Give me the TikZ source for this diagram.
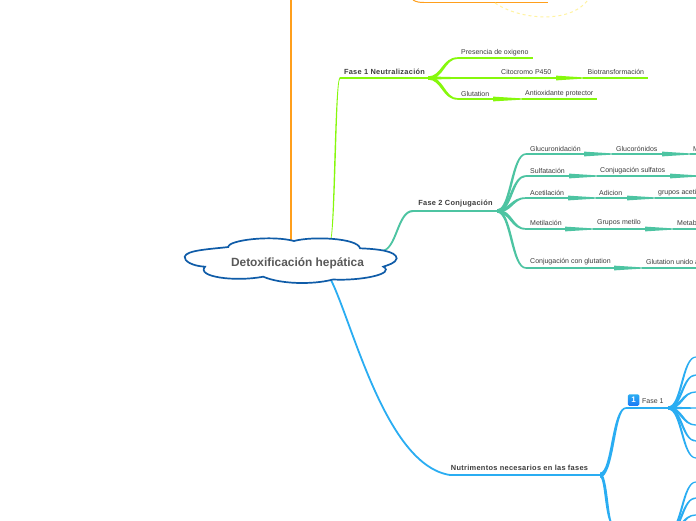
\documentclass[tikz,border=0pt]{standalone}
\usepackage{fontspec}
\setmainfont{Liberation Sans}
\newfontfamily\topicfont{Liberation Sans}[LetterSpace=4]
\usetikzlibrary{calc}
\definecolor{verde}{HTML}{86F80C}
\definecolor{teal2}{HTML}{4DC4A2}
\definecolor{azul}{HTML}{2AADF2}
\definecolor{naranja}{HTML}{FF9F1C}
\definecolor{nube}{HTML}{0F5CA8}
\definecolor{amarillo}{HTML}{FFF3A0}
\definecolor{texto}{HTML}{3C3C3C}
% rama curva que se adelgaza
\newcommand{\branch}[5]{\fill[#1] let \p1=(#2), \p2=(#3), \n1={0.5*(\x1+\x2)},
  \n2={0.5*(#4+#5)*sign(\y2-\y1)} in
  (\x1,\y1+#4) .. controls (\n1-\n2,\y1+#4) and (\n1-\n2,\y2+#5) .. (\x2,\y2+#5) -- (\x2,\y2-#5)
  .. controls (\n1+\n2,\y2-#5) and (\n1+\n2,\y1-#4) .. (\x1,\y1-#4) -- cycle;}
% flecha en cuña
\newcommand{\wedgearrow}[3]{\fill[#1] let \p1=(#2), \p2=(#3), \n1={0.5*(\x1+\x2)} in
  (\x1,\y1+2.4pt) .. controls (\n1,\y1+1.2pt) .. (\x2,\y2+.6pt) -- (\x2,\y2-.6pt)
  .. controls (\n1,\y1-1.2pt) .. (\x1,\y1-2.4pt) -- cycle;}
\begin{document}
\begin{tikzpicture}[x=1pt, y=-1pt,
  leaf/.style={anchor=west, inner sep=0pt, font=\fontsize{7}{8}\selectfont, text=texto},
  topic/.style={inner sep=0pt, font=\fontsize{7.4}{8}\topicfont\bfseries\selectfont, text=texto},
  under/.style={line width=1.8pt},
  mainline/.style={line width=2.1pt}
]
  \useasboundingbox (0,0) rectangle (696,520);
  \clip (0,0) rectangle (696,520);
  \fill[white] (0,0) rectangle (696,520);

  % Rama naranja
  \coordinate (o1) at (291,241);
  \coordinate (o2) at (291,0);
  \coordinate (o3) at (413,0);
  \coordinate (o4) at (424,2.5);
  \coordinate (o5) at (548,2.5);
  \draw[naranja, line width=1.9pt] (o1) -- (o2);
  \draw[naranja, line width=1pt] (o3) .. controls (416,2) and (420,2.5) .. (o4);
  \draw[naranja, line width=1.8pt] (o4) -- (o5);
  \coordinate (y1) at (495,3);
  \coordinate (y2) at (588,0);
  \draw[amarillo, line width=1pt, dashed] (y1) .. controls (520,20) and (570,24) .. (y2);

  % Fase 1 Neutralizacion
  \coordinate (g0) at (330,241);
  \coordinate (g1) at (340,78);
  \coordinate (g2) at (428,78);
  \coordinate (g3) at (458,58);
  \coordinate (g4) at (533,58);
  \coordinate (g5) at (458,78);
  \coordinate (g6) at (556,78);
  \coordinate (g7) at (583,78);
  \coordinate (g8) at (648,78);
  \coordinate (g9) at (458,99);
  \coordinate (g10) at (493,99);
  \coordinate (g11) at (522,99);
  \coordinate (g12) at (597,99);
  \branch{verde}{g0}{g1}{.8pt}{1pt}
  \draw[verde, mainline] (g1) -- (g2);
  \branch{verde}{g2}{g3}{1.6pt}{.8pt}
  \branch{verde}{g2}{g5}{1.6pt}{.8pt}
  \branch{verde}{g2}{g9}{1.6pt}{.8pt}
  \draw[verde, under] (g3) -- (g4);
  \draw[verde, under] (g5) -- (g6);
  \wedgearrow{verde}{g6}{g7}
  \draw[verde, under] (g7) -- (g8);
  \draw[verde, under] (g9) -- (g10);
  \wedgearrow{verde}{g10}{g11}
  \draw[verde, under] (g11) -- (g12);
  \node[topic] (fase1) at (384.5,71.8) {Fase 1 Neutralización};
  \node[leaf] (oxigeno) at (461,52.8) {Presencia de oxigeno};
  \node[leaf] (citocromo) at (501,71.8) {Citocromo P450};
  \node[leaf] (biotrans) at (587.5,71.8) {Biotransformación};
  \node[leaf] (glutation) at (461,93.8) {Glutation};
  \node[leaf] (antiox) at (525,93.8) {Antioxidante protector};

  % Fase 2 Conjugacion
  \coordinate (t0) at (381,251);
  \coordinate (t1) at (413,211);
  \coordinate (t2) at (497,211);
  \branch{teal2}{t0}{t1}{.8pt}{1pt}
  \draw[teal2, mainline] (t1) -- (t2);
  \coordinate (a0) at (526,154);
  \coordinate (a1) at (584,154);
  \coordinate (a2) at (612,154);
  \coordinate (a3) at (662,154);
  \coordinate (a4) at (690,154);
  \coordinate (a5) at (696,154);
  \coordinate (b0) at (526,176);
  \coordinate (b1) at (569,176);
  \coordinate (b2) at (597,176);
  \coordinate (b3) at (670,176);
  \coordinate (b4) at (698,176);
  \coordinate (c0) at (526,198);
  \coordinate (c1) at (568,198);
  \coordinate (c2) at (596,198);
  \coordinate (c3) at (627,198);
  \coordinate (c4) at (655,198);
  \coordinate (c5) at (696,198);
  \coordinate (d0) at (526,229);
  \coordinate (d1) at (565,229);
  \coordinate (d2) at (593,229);
  \coordinate (d3) at (645,229);
  \coordinate (d4) at (673,229);
  \coordinate (d5) at (696,229);
  \coordinate (e0) at (526,268);
  \coordinate (e1) at (614,268);
  \coordinate (e2) at (642,268);
  \coordinate (e3) at (696,268);
  \branch{teal2}{t2}{a0}{1.6pt}{.8pt}
  \branch{teal2}{t2}{b0}{1.6pt}{.8pt}
  \branch{teal2}{t2}{c0}{1.6pt}{.8pt}
  \branch{teal2}{t2}{d0}{1.6pt}{.8pt}
  \branch{teal2}{t2}{e0}{1.6pt}{.8pt}
  \draw[teal2, under] (a0) -- (a1);
  \wedgearrow{teal2}{a1}{a2}
  \draw[teal2, under] (a2) -- (a3);
  \wedgearrow{teal2}{a3}{a4}
  \draw[teal2, under] (a4) -- (a5);
  \draw[teal2, under] (b0) -- (b1);
  \wedgearrow{teal2}{b1}{b2}
  \draw[teal2, under] (b2) -- (b3);
  \wedgearrow{teal2}{b3}{b4}
  \draw[teal2, under] (c0) -- (c1);
  \wedgearrow{teal2}{c1}{c2}
  \draw[teal2, under] (c2) -- (c3);
  \wedgearrow{teal2}{c3}{c4}
  \draw[teal2, under] (c4) -- (c5);
  \draw[teal2, under] (d0) -- (d1);
  \wedgearrow{teal2}{d1}{d2}
  \draw[teal2, under] (d2) -- (d3);
  \wedgearrow{teal2}{d3}{d4}
  \draw[teal2, under] (d4) -- (d5);
  \draw[teal2, under] (e0) -- (e1);
  \wedgearrow{teal2}{e1}{e2}
  \draw[teal2, under] (e2) -- (e3);
  \node[topic] (fase2) at (455.5,203.8) {Fase 2 Conjugación};
  \node[leaf] (glucuro) at (530,148.8) {Glucuronidación};
  \node[leaf] (glucoro) at (616,148.8) {Glucorónidos};
  \node[leaf] (mcut) at (693,148.8) {M};
  \node[leaf] (sulfa) at (530,170.8) {Sulfatación};
  \node[leaf] (conjsulf) at (600,170.8) {Conjugación sulfatos};
  \node[leaf] (aceti) at (530,192.8) {Acetilación};
  \node[leaf] (adicion) at (599,192.8) {Adicion};
  \node[leaf] (grupace) at (658,192.8) {grupos aceti};
  \node[leaf] (metila) at (530,222.8) {Metilación};
  \node[leaf] (grupmet) at (597,222.8) {Grupos metilo};
  \node[leaf] (metab) at (677,222.8) {Metab};
  \node[leaf] (conjglu) at (530,261.8) {Conjugación con glutation};
  \node[leaf] (gluunido) at (646,261.8) {Glutation unido a};

  % Nutrimentos
  \coordinate (n0) at (330,278);
  \coordinate (n1) at (450,475);
  \coordinate (n2) at (600,475);
  \coordinate (n3) at (626,408);
  \coordinate (n4) at (668,408);
  \coordinate (n5) at (613,524);
  \draw[azul, line width=1.8pt] (n0) .. controls (352,320) and (385,465) .. (n1);
  \draw[azul, mainline] (n1) -- (n2);
  \branch{azul}{n2}{n3}{2.4pt}{.8pt}
  \branch{azul}{n2}{n5}{2.4pt}{.9pt}
  \draw[azul, under] (n3) -- (n4);
  \coordinate (p0) at (696,357);
  \coordinate (p1) at (696,375);
  \coordinate (p2) at (696,392);
  \coordinate (p3) at (696,408);
  \coordinate (p4) at (696,425);
  \coordinate (p5) at (696,441);
  \coordinate (p6) at (696,458);
  \branch{azul}{n4}{p0}{1.4pt}{.6pt}
  \branch{azul}{n4}{p1}{1.4pt}{.6pt}
  \branch{azul}{n4}{p2}{1.4pt}{.6pt}
  \branch{azul}{n4}{p3}{1.4pt}{.6pt}
  \branch{azul}{n4}{p4}{1.4pt}{.6pt}
  \branch{azul}{n4}{p5}{1.4pt}{.6pt}
  \branch{azul}{n4}{p6}{1.4pt}{.6pt}
  \coordinate (q0) at (668,532);
  \coordinate (q1) at (696,482);
  \coordinate (q2) at (696,498);
  \coordinate (q3) at (696,515);
  \branch{azul}{q0}{q1}{1.4pt}{.6pt}
  \branch{azul}{q0}{q2}{1.4pt}{.6pt}
  \branch{azul}{q0}{q3}{1.4pt}{.6pt}
  \node[topic] (nutri) at (519.5,467.8) {Nutrimentos necesarios en las fases};
  \node[top color=azul, bottom color=azul!70!blue, rounded corners=1.5pt, minimum size=11.5pt, inner sep=0pt, text=white,
        font=\fontsize{8}{8}\bfseries\selectfont] (icono) at (633.5,400) {1};
  \node[leaf] (fase1b) at (642,400.8) {Fase 1};

  % Nube central
  \draw[nube, fill=white, line width=1.7pt]
    (184.7,256.7) .. controls (186,250) and (212,249) .. (228.3,247)
    .. controls (228,240) and (272,235) .. (294,241)
    .. controls (312,236) and (358,238) .. (360,248.3)
    .. controls (378,249) and (396,251) .. (396.7,258.3)
    .. controls (396,263) and (388,265) .. (383.3,266.7)
    .. controls (396,274) and (360,281) .. (333,279.5)
    .. controls (312,285) and (280,284) .. (263.3,276.7)
    .. controls (235,282) and (196,277) .. (205,266.7)
    .. controls (192,266) and (184,261) .. (184.7,256.7) -- cycle;
  \node[inner sep=0pt, font=\fontsize{11.9}{13}\bfseries\selectfont, text=texto!85!white] (raiz) at (297.5,263.5) {Detoxificación hepática};
\end{tikzpicture}
\end{document}
